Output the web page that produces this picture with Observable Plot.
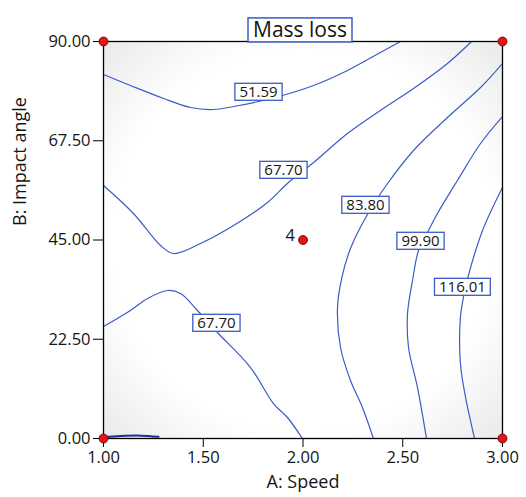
<!DOCTYPE html>
<html>
<head>
<meta charset="utf-8">
<script src="https://cdn.jsdelivr.net/npm/d3@7"></script>
<script src="https://cdn.jsdelivr.net/npm/@observablehq/plot@0.6"></script>
<style>
  html, body { margin: 0; padding: 0; background: white; }
</style>
</head>
<body>
<script>
// ---- Data ----
const A_TICKS = [1.00, 1.50, 2.00, 2.50, 3.00];
const B_TICKS = [0.00, 22.50, 45.00, 67.50, 90.00];

// contour lines: [A: Speed, B: Impact angle]
const contour_51_59 = [[1.000,82.52],[1.135,80.02],[1.301,77.08],[1.436,75.04],[1.551,74.58],[1.652,75.26],[1.777,76.40],[1.897,77.76],[2.053,80.02],[2.223,83.43],[2.388,87.51],[2.489,90.00]];
const contour_67_70_upper = [[1.000,57.35],[1.150,51.01],[1.286,43.75],[1.351,41.94],[1.486,44.21],[1.652,48.29],[1.822,53.50],[1.927,58.03],[2.053,62.57],[2.223,69.14],[2.388,74.36],[2.554,79.34],[2.724,85.01],[2.845,90.00]];
const contour_67_70_lower = [[1.000,25.39],[1.135,29.02],[1.221,31.74],[1.321,33.55],[1.386,32.87],[1.471,29.02],[1.571,24.03],[1.737,16.09],[1.852,7.93],[1.922,4.76],[1.997,0.00]];
const contour_83_80 = [[3.000,85.01],[2.890,79.57],[2.724,72.77],[2.554,65.29],[2.424,57.81],[2.323,50.78],[2.238,43.07],[2.195,36.50],[2.173,29.70],[2.188,20.63],[2.238,13.15],[2.298,7.03],[2.353,0.00]];
const contour_99_90 = [[3.000,73.00],[2.890,66.88],[2.774,58.49],[2.674,51.01],[2.624,46.70],[2.579,42.62],[2.549,35.82],[2.524,28.34],[2.529,20.63],[2.574,11.56],[2.619,0.00]];
const contour_116_01 = [[3.000,56.90],[2.900,47.15],[2.825,36.27],[2.805,32.19],[2.789,27.43],[2.789,17.00],[2.815,9.29],[2.860,0.00]];
const contour_small = [[1.000,0.30],[1.085,0.55],[1.185,0.65],[1.276,0.40]];

const labelText = ["51.59", "67.70", "67.70", "83.80", "99.90", "116.01"];
const labelA    = [1.777, 1.902, 1.566, 2.313, 2.589, 2.799];
const labelB    = [78.44, 60.75, 26.07, 52.82, 44.66, 34.23];

const designA = [1, 1, 3, 3];
const designB = [0, 90, 0, 90];
const centerA = [2.00];
const centerB = [45.00];
const centerCount = ["4"];

const TITLE = "Mass loss";
const X_LABEL = "A: Speed";
const Y_LABEL = "B: Impact angle";

// ---- Build tables ----
const contours = [contour_51_59, contour_67_70_upper, contour_67_70_lower, contour_83_80, contour_99_90, contour_116_01];
const lines = contours.flatMap((c, id) => c.map(([a, b]) => ({a, b, id})));
const small = contour_small.map(([a, b]) => ({a, b}));
const labels = labelText.map((t, i) => ({t, a: labelA[i], b: labelB[i]}));
const corners = designA.map((a, i) => ({a, b: designB[i]}));
const centers = centerA.map((a, i) => ({a, b: centerB[i], n: centerCount[i]}));

const BLUE = "#3b5cc6";
const INK = "#151515";

const plot = Plot.plot({
  width: 526,
  height: 497,
  marginLeft: 103,
  marginRight: 24,
  marginTop: 41,
  marginBottom: 59,
  x: {domain: [1, 3]},
  y: {domain: [0, 90]},
  style: {fontFamily: "'Open Sans', sans-serif", fontSize: "16px", background: "white", color: INK},
  marks: [
    Plot.frame({fill: "url(#bg)"}),
    Plot.line(lines, {x: "a", y: "b", z: "id", stroke: BLUE, strokeWidth: 1.2, curve: "catmull-rom", clip: true}),
    Plot.line(small, {x: "a", y: "b", stroke: "#1c2f8c", strokeWidth: 2, curve: "catmull-rom"}),
    Plot.frame({stroke: "black", strokeWidth: 1.3}),
    Plot.axisX({ticks: A_TICKS, tickFormat: d3.format(".2f"), tickSize: 9, tickPadding: 4, fontSize: 16.5, label: null, stroke: "black", fill: INK}),
    Plot.axisY({ticks: B_TICKS, tickFormat: d3.format(".2f"), tickSize: 10, tickPadding: 3, fontSize: 16.5, label: null, stroke: "black", fill: INK}),
    Plot.text(labels, {x: "a", y: "b", text: "t", fontSize: 15, fill: INK, ariaDescription: "boxed"}),
    Plot.dot(corners, {x: "a", y: "b", r: 4.5, fill: "#e3141b", stroke: "#5a0000", strokeWidth: 0.8}),
    Plot.dot(centers, {x: "a", y: "b", r: 4.5, fill: "#e3141b", stroke: "#5a0000", strokeWidth: 0.8}),
    Plot.text(centers, {x: "a", y: "b", text: "n", textAnchor: "end", dx: -8, dy: -4, fontSize: 16.5, fill: INK}),
    Plot.text([TITLE], {frameAnchor: "top", dx: -3, dy: -19, fontSize: 21, fill: INK, ariaDescription: "boxed-title"}),
    Plot.text([X_LABEL], {frameAnchor: "bottom", dy: 49, fontSize: 18, fill: INK}),
    Plot.text([Y_LABEL], {frameAnchor: "left", dx: -83, dy: -14, rotate: -90, fontSize: 18, fill: INK})
  ]
});

document.body.append(plot);
const svg = plot.tagName.toLowerCase() === "svg" ? plot : plot.querySelector("svg");

// background gradient (design-space shading)
const NS = "http://www.w3.org/2000/svg";
const defs = document.createElementNS(NS, "defs");
defs.innerHTML = `<radialGradient id="bg" cx="50%" cy="50%" r="71%">
  <stop offset="0%" stop-color="#ffffff"/>
  <stop offset="68%" stop-color="#ffffff"/>
  <stop offset="100%" stop-color="#e9e9e9"/>
</radialGradient>`;
svg.insertBefore(defs, svg.firstChild);

// boxes behind labels
function boxTexts(desc, padX, h, sw) {
  svg.querySelectorAll(`g[aria-description="${desc}"] text`).forEach(t => {
    const b = t.getBBox();
    const r = document.createElementNS(NS, "rect");
    const cy = b.y + b.height / 2 + 0.5;
    r.setAttribute("x", b.x - padX);
    r.setAttribute("y", cy - h / 2);
    r.setAttribute("width", b.width + 2 * padX);
    r.setAttribute("height", h);
    r.setAttribute("fill", "white");
    r.setAttribute("stroke", BLUE);
    r.setAttribute("stroke-width", sw);
    const tr = t.getAttribute("transform");
    if (tr) r.setAttribute("transform", tr);
    t.parentNode.insertBefore(r, t);
  });
}
boxTexts("boxed", 4.5, 17, 1.3);
boxTexts("boxed-title", 5, 24, 1.5);
</script>
</body>
</html>
